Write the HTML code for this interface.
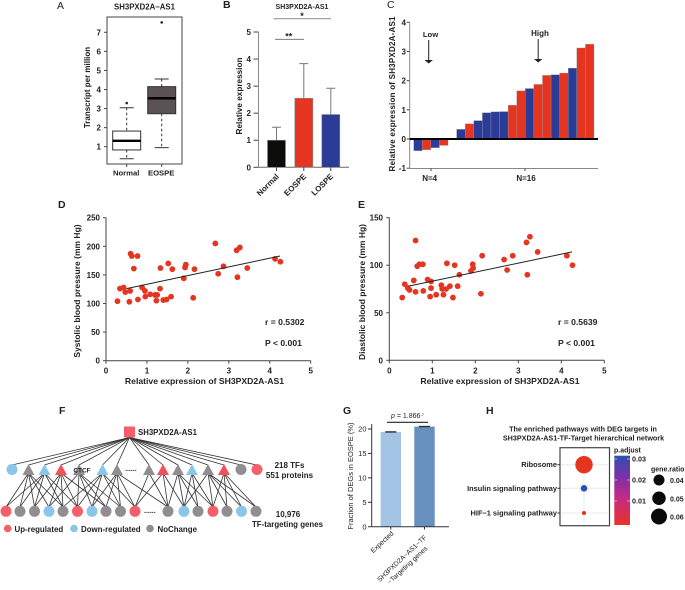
<!DOCTYPE html>
<html><head><meta charset="utf-8"><title>SH3PXD2A-AS1 figure</title>
<style>
html,body{margin:0;padding:0;background:#fff;width:685px;height:590px;overflow:hidden}
svg{display:block;font-size:8px;filter:blur(.3px)}
text{font-family:"Liberation Sans",sans-serif;fill:#222}
.b{font-weight:bold}
.tk{font-weight:bold}
.ax{stroke:#444;stroke-width:1;fill:none}
.ed{stroke:#333;stroke-width:.8}
.letter{font-size:10.5px}
</style></head>
<body>
<svg id="fig" width="685" height="590" viewBox="0 0 685 590" xmlns="http://www.w3.org/2000/svg">
<defs><linearGradient id="cb" x1="0" y1="0" x2="0" y2="1"><stop offset="0" stop-color="#2f4fb0"/><stop offset=".3" stop-color="#7a30a8"/><stop offset=".6" stop-color="#c42a84"/><stop offset="1" stop-color="#e8342a"/></linearGradient></defs>

<!-- Panel letters -->
<text class="letter" x="57" y="9">A</text>
<text class="letter b" x="223" y="8">B</text>
<text class="letter" x="387" y="8">C</text>
<text class="letter b" x="58" y="208">D</text>
<text class="letter b" x="358" y="208">E</text>
<text class="letter b" x="59" y="414">F</text>
<text class="letter b" x="343" y="414">G</text>
<text class="letter b" x="486" y="414">H</text>

<!-- A -->
<g id="pa">
<text class="b" x="144.5" y="9.5" font-size="7.8" text-anchor="middle">SH3PXD2A−AS1</text>
<rect x="107" y="17" width="75" height="147" fill="none" stroke="#444"/>
<text class="tk" transform="translate(90,87.5) rotate(-90)" text-anchor="middle">Transcript per million</text>
</g>

<!-- B -->
<g id="pb">
<text class="b" x="302" y="9" font-size="7" text-anchor="middle">SH3PXD2A-AS1</text>
<text class="b" x="302" y="19" font-size="9" text-anchor="middle">*</text>
<line x1="273.5" x2="331" y1="18.7" y2="18.7" stroke="#999" stroke-width="1.2"/>
<text class="b" x="288.7" y="39.5" font-size="9" text-anchor="middle">**</text>
<line x1="275" x2="304" y1="39.3" y2="39.3" stroke="#666" stroke-width=".9"/>
<text class="tk" transform="translate(242,96) rotate(-90)" text-anchor="middle" font-size="8.2">Relative expression</text>
</g>

<!-- C -->
<g id="pc">
<text class="tk" transform="translate(395,94) rotate(-90)" text-anchor="middle" textLength="155">Relative expression of SH3PXD2A-AS1</text>
<text x="430.5" y="37" font-size="7.7" text-anchor="middle" font-weight="bold">Low</text>
<text x="540" y="36" font-size="8" text-anchor="middle" font-weight="bold">High</text>
<g><line x1="428.7" x2="428.7" y1="40" y2="61" stroke="#222"/><path d="M424.5 60h8.4l-4.2 3.5z" fill="#222"/></g>
<g><line x1="538.2" x2="538.2" y1="39" y2="60" stroke="#222"/><path d="M534 59h8.4l-4.2 3.5z" fill="#222"/></g>
<text class="tk" x="429.7" y="181" text-anchor="middle" font-size="8">N=4</text>
<text class="tk" x="526" y="181" text-anchor="middle" font-size="8">N=16</text>
</g>

<!-- D -->
<g id="pd">
<text class="tk" x="204.5" y="384" text-anchor="middle" font-size="8.65">Relative expression of SH3PXD2A-AS1</text>
<text class="tk" transform="translate(80,291) rotate(-90)" text-anchor="middle" font-size="8.5">Systolic blood pressure (mm Hg)</text>
<text class="tk" x="265" y="325" font-size="8.6">r = 0.5302</text>
<text class="tk" x="265" y="346" font-size="8.6">P &lt; 0.001</text>
</g>

<!-- E -->
<g id="pe">
<text class="tk" x="500" y="384" text-anchor="middle" font-size="8.65">Relative expression of SH3PXD2A-AS1</text>
<text class="tk" transform="translate(365,292) rotate(-90)" text-anchor="middle" font-size="8.5">Diastolic blood pressure (mm Hg)</text>
<text class="tk" x="558" y="325" font-size="8.6">r = 0.5639</text>
<text class="tk" x="558" y="346" font-size="8.6">P &lt; 0.001</text>
</g>

<!-- F -->
<g>
<g id="fe"></g>
<rect x="124" y="426.5" width="11" height="11" fill="#f4606a"/>
<text class="b" x="138" y="435" font-size="7.8">SH3PXD2A-AS1</text>
<g id="tfs">
<circle data-x="12" cx="12" cy="469.5" r="5.5" fill="#8ac6e8"/>
<path data-x="28.5" d="M22.5 475l6-11 6 11z" fill="#918e91"/>
<path data-x="44.5" d="M38.5 475l6-11 6 11z" fill="#8ac6e8"/>
<path data-x="61" d="M55 475l6-11 6 11z" fill="#f4505a"/>
<path data-x="79" d="M73 475l6-11 6 11z" fill="#918e91"/>
<path data-x="102.5" d="M96.5 475l6-11 6 11z" fill="#8ac6e8"/>
<path data-x="117" d="M111 475l6-11 6 11z" fill="#918e91"/>
<path data-x="149" d="M143 475l6-11 6 11z" fill="#918e91"/>
<path data-x="163" d="M157 475l6-11 6 11z" fill="#f4505a"/>
<path data-x="178" d="M172 475l6-11 6 11z" fill="#918e91"/>
<path data-x="192" d="M186 475l6-11 6 11z" fill="#8ac6e8"/>
<path data-x="208" d="M202 475l6-11 6 11z" fill="#918e91"/>
<path data-x="224" d="M218 475l6-11 6 11z" fill="#f4505a"/>
<circle data-x="241" cx="241" cy="469.5" r="5.5" fill="#918e91"/>
<circle data-x="257" cx="257" cy="469.5" r="5.5" fill="#f4606a"/>
</g>
<g id="tgts">
<circle data-x="6" cx="6" cy="511.3" r="5.5" fill="#f4606a"/>
<circle data-x="20" cx="20" cy="511.3" r="5.5" fill="#918e91"/>
<circle data-x="34.5" cx="34.5" cy="511.3" r="5.5" fill="#918e91"/>
<circle data-x="49" cx="49" cy="511.3" r="5.5" fill="#8ac6e8"/>
<circle data-x="63" cx="63" cy="511.3" r="5.5" fill="#918e91"/>
<circle data-x="77.5" cx="77.5" cy="511.3" r="5.5" fill="#f4606a"/>
<circle data-x="92" cx="92" cy="511.3" r="5.5" fill="#8ac6e8"/>
<circle data-x="106" cx="106" cy="511.3" r="5.5" fill="#918e91"/>
<circle data-x="120.5" cx="120.5" cy="511.3" r="5.5" fill="#918e91"/>
<circle data-x="135" cx="135" cy="511.3" r="5.5" fill="#f4606a"/>
<circle data-x="168" cx="168" cy="511.3" r="5.5" fill="#918e91"/>
<circle data-x="184" cx="184" cy="511.3" r="5.5" fill="#8ac6e8"/>
<circle data-x="198" cx="198" cy="511.3" r="5.5" fill="#918e91"/>
<circle data-x="213" cx="213" cy="511.3" r="5.5" fill="#f4606a"/>
<circle data-x="227" cx="227" cy="511.3" r="5.5" fill="#918e91"/>
<circle data-x="241.5" cx="241.5" cy="511.3" r="5.5" fill="#8ac6e8"/>
<circle data-x="256" cx="256" cy="511.3" r="5.5" fill="#918e91"/>
</g>
<text class="b" x="82" y="472.5" font-size="6.5" text-anchor="middle">CTCF</text>
<text class="b" x="125" y="471" font-size="7">......</text>
<text class="b" x="144" y="513" font-size="7">......</text>
<circle cx="7.7" cy="528.5" r="3.8" fill="#f4606a"/>
<text class="b" x="14.5" y="532" font-size="7.9">Up-regulated</text>
<circle cx="74" cy="528.5" r="3.8" fill="#8ac6e8"/>
<text class="b" x="81" y="532" font-size="7.9">Down-regulated</text>
<circle cx="150" cy="528.5" r="3.8" fill="#918e91"/>
<text class="b" x="157.5" y="532" font-size="7.9">NoChange</text>
<text class="b" x="289.5" y="468" font-size="8" text-anchor="middle">218 TFs</text>
<text class="b" x="289.5" y="478" font-size="8" text-anchor="middle">551 proteins</text>
<text class="b" x="288" y="517" font-size="8" text-anchor="middle">10,976</text>
<text class="b" x="287.5" y="527" font-size="7.9" text-anchor="middle">TF-targeting genes</text>
</g>

<!-- G -->
<g id="pg">
<text x="407.5" y="418" font-size="7" text-anchor="middle" fill="#555"><tspan font-style="italic">p</tspan> = 1.866<tspan font-size="4" dy="-2">-7</tspan></text>
<line x1="387" x2="428" y1="422.3" y2="422.3" stroke="#222" stroke-width="1.1"/>
<text transform="translate(353,476) rotate(-90)" text-anchor="middle" font-size="7.5">Fraction of DEGs in EOSPE (%)</text>
</g>

<!-- H -->
<g id="ph">
<text class="b" x="583" y="431.5" font-size="7.2" text-anchor="middle">The enriched pathways with DEG targets in</text>
<text class="b" x="583.5" y="440.5" font-size="7.2" text-anchor="middle">SH3PXD2A-AS1-TF-Target hierarchical network</text>
<rect x="560" y="447.7" width="49.5" height="78" fill="#fff" stroke="#444" stroke-width="1.2"/>
<text class="b" x="614" y="452.5" font-size="7">p.adjust</text>
<rect x="614.3" y="455.7" width="15.7" height="69.3" fill="url(#cb)"/>
<text class="b" x="651" y="471.5" font-size="7">gene.ratio</text>
</g>

<script>
/* Panel A */
const aGroups = ['Normal', 'EOSPE'];
const aQ1 = [0.83, 2.73];
const aMedian = [1.31, 3.54];
const aQ3 = [1.82, 4.15];
const aWhiskerLow = [0.37, 0.95];
const aWhiskerHigh = [3.04, 4.55];
const aOutlier = [3.29, 7.52];
const aTicks = [1, 2, 3, 4, 5, 6, 7];
/* Panel B */
const bGroups = ['Normal', 'EOSPE', 'LOSPE'];
const bMeans = [1.0, 2.55, 1.95];
const bErrors = [0.48, 1.28, 0.97];
const bTicks = [0, 1, 2, 3, 4, 5];
/* Panel C */
const cValues = [-0.4, -0.37, -0.3, -0.22, null, 0.33, 0.52, 0.63, 0.9, 0.93, 0.94, 1.16, 1.65, 1.73, 1.87, 2.18, 2.2, 2.26, 2.43, 3.12, 3.25];
const cSeries = ['b', 'r', 'b', 'r', '', 'b', 'r', 'b', 'b', 'b', 'b', 'r', 'r', 'b', 'r', 'r', 'b', 'r', 'b', 'r', 'r'];
const cTicks = [-1, 0, 1, 2, 3, 4];
/* Panels D and E */
const dExpr = [0.28, 0.34, 0.43, 0.47, 0.57, 0.59, 0.6, 0.63, 0.68, 0.77, 0.78, 0.88, 0.95, 0.96, 1.08, 1.2, 1.23, 1.25, 1.32, 1.33, 1.4, 1.48, 1.52, 1.59, 1.62, 1.9, 1.93, 1.95, 2.13, 2.16, 2.67, 2.74, 2.87, 3.19, 3.21, 3.27, 3.45, 4.13, 4.26];
const dSystolic = [104, 126, 128, 120, 103, 122, 187, 183, 161, 183, 107, 128, 122, 112, 116, 115, 105, 115, 126, 162, 106, 107, 170, 112, 160, 144, 163, 168, 110, 160, 205, 152, 165, 193, 146, 198, 162, 178, 173];
const dFitX = [0.5, 4.25];
const dFitY = [126, 183];
const dXTicks = [0, 1, 2, 3, 4, 5];
const dYTicks = [0, 50, 100, 150, 200, 250];
const eExpr = [0.3, 0.36, 0.43, 0.47, 0.57, 0.61, 0.61, 0.65, 0.7, 0.78, 0.79, 0.89, 0.95, 0.97, 0.97, 1.09, 1.21, 1.23, 1.26, 1.32, 1.34, 1.41, 1.48, 1.52, 1.59, 1.63, 1.9, 1.94, 1.95, 2.13, 2.16, 2.67, 2.74, 2.87, 3.19, 3.21, 3.27, 3.45, 4.13, 4.26];
const eDiastolic = [66, 80, 76, 74, 84, 72, 126, 99, 101, 101, 73, 85, 67, 83, 76, 69, 79, 75, 69, 75, 102, 78, 66, 100, 78, 90, 94, 101, 97, 70, 110, 106, 95, 110, 124, 90, 130, 114, 110, 100];
const eFitX = [0.45, 4.25];
const eFitY = [78, 114];
const eXTicks = [0, 1, 2, 3, 4, 5];
const eYTicks = [0, 50, 100, 150];
/* Panel F: each TF's target node indices */
const fEdges = [[], [0, 1, 2, 3, 4], [0, 1, 2, 4, 5], [2, 3, 4, 5, 7], [3, 5, 6, 7, 8], [4, 5, 6, 8, 9], [6, 7, 8, 9, 10], [9, 10], [9, 10, 11], [10, 11, 12, 13], [11, 12, 13], [11, 13, 14, 15, 16], [13, 14, 15, 16], [], []];
/* Panel G */
const gMeans = [19.4, 20.5];
const gErrors = [0.15, 0.15];
const gTicks = [0, 5, 10, 15, 20];
/* Panel H */
const hPathways = ['Ribosome', 'Insulin signaling pathway', 'HIF−1 signaling pathway'];
const hPAdjust = [0.001, 0.03, 0.001];
const hRatio = [0.0625, 0.031, 0.022];
const hPTicks = [0.03, 0.02, 0.01];
const hSizeTicks = [0.04, 0.05, 0.06];

const NS = 'http://www.w3.org/2000/svg';
function mk(parent, tag, attrs, txt) {
  const n = document.createElementNS(NS, tag);
  for (const k in attrs) n.setAttribute(k, attrs[k]);
  if (txt !== undefined) n.textContent = txt;
  parent.appendChild(n);
  return n;
}
function lin(d0, d1, r0, r1) { return v => r0 + (v - d0) * (r1 - r0) / (d1 - d0); }
function mark(n, name) {
  
  
  return n;
}
function yAxis(g, y, ticks, x, tickLen, labelX, prefix, fs) {
  ticks.forEach(t => {
    const tl = mk(g, 'line', { class: 'ax', x1: x - tickLen, x2: x, y1: y(t), y2: y(t) });
    mark(tl, prefix + '-y-tick');
    const lb = mk(g, 'text', { class: 'tk', x: labelX, y: y(t) + 3, 'text-anchor': 'end', 'font-size': fs }, t);
    mark(lb, prefix + '-y-tick-label');
  });
}
function xAxis(g, x, ticks, y, tickLen, labelY, prefix) {
  ticks.forEach(t => {
    const tl = mk(g, 'line', { class: 'ax', x1: x(t), x2: x(t), y1: y, y2: y + tickLen });
    mark(tl, prefix + '-x-tick');
    const lb = mk(g, 'text', { class: 'tk', x: x(t), y: labelY, 'text-anchor': 'middle' }, t);
    mark(lb, prefix + '-x-tick-label');
  });
}

/* ---- A ---- */
(function () {
  const g = document.getElementById('pa');
  const y = lin(1, 7, 146.7, 32.3);
  const cx = [126.7, 161.7];
  yAxis(g, y, aTicks, 107, 3, 101, 'panel-a', 8);
  aGroups.forEach((name, i) => {
    const x = cx[i];
    const wh = mk(g, 'path', { d: `M${x} ${y(aWhiskerHigh[i])}V${y(aQ3[i])}M${x} ${y(aQ1[i])}V${y(aWhiskerLow[i])}`, stroke: '#333', 'stroke-dasharray': '2.5 2.5', fill: 'none' });
    mark(wh, 'whisker');
    const caps = mk(g, 'path', { d: `M${x - 7} ${y(aWhiskerHigh[i])}h14M${x - 7} ${y(aWhiskerLow[i])}h14`, stroke: '#333', fill: 'none' });
    mark(caps, 'whisker-cap');
    const box = mk(g, 'rect', { x: x - 14, width: 28, y: y(aQ3[i]), height: y(aQ1[i]) - y(aQ3[i]), fill: i ? '#5a5254' : '#fff', stroke: '#333' });
    mark(box, 'box-' + name.toLowerCase());
    const med = mk(g, 'line', { x1: x - 14, x2: x + 14, y1: y(aMedian[i]), y2: y(aMedian[i]), stroke: '#000', 'stroke-width': 2.4 });
    mark(med, 'median-' + name.toLowerCase());
    const out = mk(g, 'circle', { cx: x, cy: y(aOutlier[i]), r: 1.3, fill: '#222' });
    mark(out, 'outlier');
    const tk = mk(g, 'line', { class: 'ax', x1: x, x2: x, y1: 164, y2: 167 });
    mark(tk, 'panel-a-x-tick');
    const lb = mk(g, 'text', { class: 'tk', x: x - 0.5, y: 175.5, 'text-anchor': 'middle', 'font-size': 7.7 }, name);
    mark(lb, 'panel-a-x-label');
  });
})();

/* ---- B ---- */
(function () {
  const g = document.getElementById('pb');
  const y = lin(0, 5, 167.3, 32);
  const colors = ['#0c0c0a', '#e5341f', '#2a3b98'];
  const cx = [276.5, 303.8, 330.8];
  yAxis(g, y, bTicks, 258.5, 5, 251, 'panel-b', 8);
  const ya = mk(g, 'line', { x1: 258.5, x2: 258.5, y1: 32, y2: 167.3, stroke: '#888', 'stroke-width': 1 });
  mark(ya, 'panel-b-y-axis');
  const xa = mk(g, 'line', { x1: 258.5, x2: 349, y1: 167.3, y2: 167.3, stroke: '#666', 'stroke-width': 1 });
  mark(xa, 'panel-b-x-axis');
  bGroups.forEach((name, i) => {
    const x = cx[i];
    const er = mk(g, 'path', { d: `M${x} ${y(bMeans[i])}V${y(bMeans[i] + bErrors[i])}M${x - 4.5} ${y(bMeans[i] + bErrors[i])}h9`, stroke: '#777', fill: 'none' });
    mark(er, 'error-bar');
    const bar = mk(g, 'rect', { x: x - 9, width: 18, y: y(bMeans[i]), height: y(0) - y(bMeans[i]), fill: colors[i], stroke: '#888', 'stroke-width': .6 });
    mark(bar, 'bar-' + name.toLowerCase());
    const tk = mk(g, 'line', { class: 'ax', x1: x, x2: x, y1: 167.3, y2: 171 });
    mark(tk, 'panel-b-x-tick');
    const lb = mk(g, 'text', { class: 'tk', transform: `translate(${x + 3},177) rotate(-45)`, 'text-anchor': 'end', 'font-size': 8 }, name);
    mark(lb, 'panel-b-x-label');
  });
})();

/* ---- C ---- */
(function () {
  const g = document.getElementById('pc');
  const y = lin(0, 4, 139, 22.3);
  const x = lin(0, 21, 413.7, 594);
  yAxis(g, y, cTicks, 409.7, 3, 406, 'panel-c', 8);
  const ya = mk(g, 'line', { x1: 409.7, x2: 409.7, y1: 22.3, y2: 168.5, stroke: '#888' });
  mark(ya, 'panel-c-y-axis');
  const xa = mk(g, 'line', { x1: 409.7, x2: 598, y1: 168.5, y2: 168.5, stroke: '#888' });
  mark(xa, 'panel-c-x-axis');
  [431, 525].forEach(px => {
    const tk = mk(g, 'line', { class: 'ax', x1: px, x2: px, y1: 168.5, y2: 171 });
    mark(tk, 'panel-c-x-tick');
  });
  cValues.forEach((v, i) => {
    if (v === null) return;
    const top = Math.min(y(v), y(0));
    const b = mk(g, 'rect', { x: x(i), width: x(1) - x(0), y: top, height: Math.abs(y(v) - y(0)), fill: cSeries[i] === 'r' ? '#e5341f' : '#2a3b98', stroke: '#9a9a9a', 'stroke-width': .35 });
    mark(b, 'sample-bar');
  });
  const zero = mk(g, 'line', { x1: 409.7, x2: 598, y1: 139, y2: 139, stroke: '#000', 'stroke-width': 2 });
  mark(zero, 'zero-line');
})();

/* ---- D / E ---- */
function scatter(id, prefix, xs, ys, fitX, fitY, xTicks, yTicks, x, y, axisX, labelX) {
  const g = document.getElementById(id);
  const ya = mk(g, 'line', { class: 'ax', x1: axisX, x2: axisX, y1: y(yTicks[yTicks.length - 1]), y2: y(0) });
  mark(ya, prefix + '-y-axis');
  const xa = mk(g, 'line', { class: 'ax', x1: axisX, x2: x(xTicks[xTicks.length - 1]), y1: y(0), y2: y(0) });
  mark(xa, prefix + '-x-axis');
  yAxis(g, y, yTicks, axisX, 3, labelX, prefix, 8);
  xAxis(g, x, xTicks, y(0), 3, 373.5, prefix);
  xs.forEach((v, i) => {
    const c = mk(g, 'circle', { cx: x(v), cy: y(ys[i]), r: 2.9, fill: '#e5341f' });
    mark(c, 'data-point');
  });
  const fit = mk(g, 'line', { x1: x(fitX[0]), y1: y(fitY[0]), x2: x(fitX[1]), y2: y(fitY[1]), stroke: '#222', 'stroke-width': 1 });
  mark(fit, 'trend-line');
}
scatter('pd', 'panel-d', dExpr, dSystolic, dFitX, dFitY, dXTicks, dYTicks, lin(0, 5, 106, 310.7), lin(0, 250, 360.7, 217.7), 106, 100);
scatter('pe', 'panel-e', eExpr, eDiastolic, eFitX, eFitY, eXTicks, eYTicks, lin(0, 5, 389.3, 604.3), lin(0, 150, 360.3, 217.7), 389.3, 383);

/* ---- F ---- */
(function () {
  const g = document.getElementById('fe');
  const tfs = [...document.querySelectorAll('#tfs > *')].map(n => +n.getAttribute('data-x'));
  const tg = [...document.querySelectorAll('#tgts > *')].map(n => +n.getAttribute('data-x'));
  tfs.forEach((tx, i) => {
    const up = mk(g, 'line', { class: 'ed', x1: 129.5, y1: 437.5, x2: tx, y2: 465 });
    mark(up, 'lncrna-tf-edge');
    fEdges[i].forEach(t => {
      const e = mk(g, 'line', { class: 'ed', x1: tx, y1: 473, x2: tg[t], y2: 507 });
      mark(e, 'tf-target-edge');
    });
  });
})();

/* ---- G ---- */
(function () {
  const g = document.getElementById('pg');
  const y = lin(0, 20, 526.7, 429);
  const cols = ['#a3c4e4', '#6890bf'];
  const cx = [390.8, 424.5];
  gMeans.forEach((m, i) => {
    const b = mk(g, 'rect', { x: cx[i] - 10.2, width: 20.4, y: y(m), height: y(0) - y(m), fill: cols[i] });
    mark(b, 'fraction-bar');
    const er = mk(g, 'rect', { x: cx[i] - 5.5, width: 11, y: y(m + gErrors[i]), height: Math.max(1.2, y(m - gErrors[i]) - y(m + gErrors[i])), fill: '#333' });
    mark(er, 'error-cap');
    const tk = mk(g, 'line', { x1: cx[i], x2: cx[i], y1: 526.7, y2: 529.5, stroke: '#333' });
    mark(tk, 'panel-g-x-tick');
  });
  const ya = mk(g, 'line', { x1: 371.7, x2: 371.7, y1: 424, y2: 526.7, stroke: '#333' });
  mark(ya, 'panel-g-y-axis');
  const xa = mk(g, 'line', { x1: 371.7, x2: 449, y1: 526.7, y2: 526.7, stroke: '#333' });
  mark(xa, 'panel-g-x-axis');
  gTicks.forEach(t => {
    const tk = mk(g, 'line', { x1: 368, x2: 371.7, y1: y(t), y2: y(t), stroke: '#333' });
    mark(tk, 'panel-g-y-tick');
    const lb = mk(g, 'text', { x: 366.5, y: y(t) + 2.6, 'text-anchor': 'end', 'font-size': 7.5 }, t);
    mark(lb, 'panel-g-y-tick-label');
  });
  const l1 = mk(g, 'text', { transform: 'translate(394,534) rotate(-43)', 'text-anchor': 'end', 'font-size': 6.8 }, 'Expected');
  mark(l1, 'panel-g-x-label-expected');
  const l2 = mk(g, 'text', { transform: 'translate(427,538) rotate(-43)', 'text-anchor': 'end', 'font-size': 6.8 }, 'SH3PXD2A−AS1−TF');
  mark(l2, 'panel-g-x-label-line-1');
  const l3 = mk(g, 'text', { transform: 'translate(428,549) rotate(-43)', 'text-anchor': 'end', 'font-size': 6.8 }, '−Targeting genes');
  mark(l3, 'panel-g-x-label-line-2');
})();

/* ---- H ---- */
(function () {
  const g = document.getElementById('ph');
  const cy = [464.7, 488.3, 513];
  const cx = 584;
  const rad = v => 8.7 * Math.pow(v / 0.0625, 1.38);
  const pColor = p => p > 0.015 ? '#2f4fb0' : '#e5341f';
  const vg = mk(g, 'line', { x1: cx, x2: cx, y1: 448.5, y2: 525, stroke: '#e8e8e8' });
  mark(vg, 'grid-line-vertical');
  hPathways.forEach((name, i) => {
    const gl = mk(g, 'line', { x1: 560.5, x2: 609, y1: cy[i], y2: cy[i], stroke: '#e8e8e8' });
    mark(gl, 'grid-line-horizontal');
    const d = mk(g, 'circle', { cx: cx, cy: cy[i], r: rad(hRatio[i]), fill: pColor(hPAdjust[i]) });
    mark(d, 'pathway-dot');
    const tk = mk(g, 'line', { x1: 557.5, x2: 560, y1: cy[i], y2: cy[i], stroke: '#333' });
    mark(tk, 'pathway-tick');
    const lb = mk(g, 'text', { class: 'b', x: 557, y: cy[i] + 2.5, 'text-anchor': 'end', 'font-size': 7.4, fill: '#333' }, name);
    mark(lb, 'pathway-label');
  });
  const py = lin(0.03, 0.01, 459, 501);
  hPTicks.forEach(t => {
    const tk = mk(g, 'line', { x1: 614.3, x2: 630, y1: py(t), y2: py(t), stroke: '#fff', 'stroke-width': .5, 'stroke-dasharray': '3 9.7' });
    mark(tk, 'colorbar-tick');
    const lb = mk(g, 'text', { class: 'b', x: 632, y: py(t) + 2.5, 'font-size': 7.2 }, t.toFixed(2));
    mark(lb, 'colorbar-tick-label');
  });
  const sy = lin(0.04, 0.06, 480, 516.5);
  hSizeTicks.forEach((t, i) => {
    const c = mk(g, 'circle', { cx: 659, cy: sy(t), r: 5.5 + i * 1.25, fill: '#0a0a0a' });
    mark(c, 'gene-ratio-legend-dot');
    const lb = mk(g, 'text', { class: 'b', x: 670, y: sy(t) + 3, 'font-size': 7 }, t.toFixed(2));
    mark(lb, 'gene-ratio-legend-label');
  });
})();
</script>
</svg>
</body></html>
